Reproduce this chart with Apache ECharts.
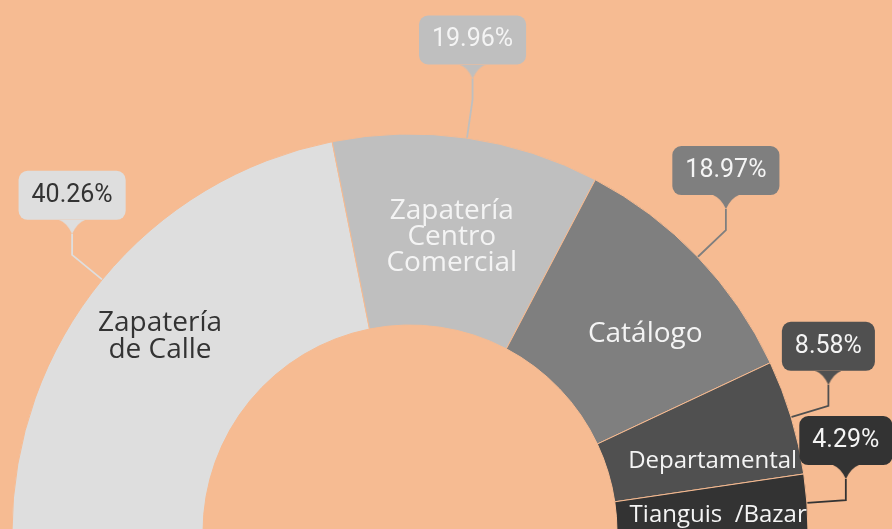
<!DOCTYPE html>
<html>
<head>
<meta charset="utf-8">
<script src="https://cdn.jsdelivr.net/npm/echarts@6/dist/echarts.min.js"></script>
<style>
  html, body { margin: 0; padding: 0; background: #F6BB92; }
  #chart { width: 892px; height: 529px; }
</style>
</head>
<body>
<div id="chart"></div>
<script>
// ---- data ----
const categories = ['Zapatería\nde Calle', 'Zapatería\nCentro\nComercial', 'Catálogo', 'Departamental', 'Tianguis  /Bazar'];
const shares = [40.26, 19.96, 18.97, 8.58, 4.29];

// ---- styles ----
const sliceColors = ['#DEDEDE', '#BFBFBF', '#7F7F7F', '#505050', '#333333'];
const textColors = ['#333333', '#F4F4F4', '#F4F4F4', '#F4F4F4', '#F4F4F4'];
const innerFontSizes = [28, 28, 28, 24, 24];
const innerLineHeights = [27, 26, 27, 24, 24];
const innerNudges = [[-8, 3], [-3, 15], [9, 18], [3, 19], [-4, 6]];

function tailImage(color) {
  const c = document.createElement('canvas');
  c.width = 26; c.height = 14;
  const g = c.getContext('2d');
  g.fillStyle = color;
  g.beginPath();
  g.moveTo(0, 0);
  g.quadraticCurveTo(8, 3, 13, 14);
  g.quadraticCurveTo(18, 3, 26, 0);
  g.closePath();
  g.fill();
  return c;
}

const outerData = categories.map((name, i) => ({
  name: name,
  value: shares[i],
  itemStyle: { color: sliceColors[i] },
  label: {
    rich: {
      box: {
        backgroundColor: sliceColors[i],
        color: textColors[i],
        borderRadius: 9,
        height: 25,
        padding: [12, 13],
        fontSize: 25,
        lineHeight: 49,
        fontFamily: 'Roboto',
        align: 'center'
      },
      tail: {
        width: 26,
        height: 14,
        lineHeight: 14,
        fontSize: 13,
        color: 'rgba(0,0,0,0)',
        align: 'center',
        backgroundColor: { image: tailImage(sliceColors[i]) }
      }
    }
  }
}));

const innerData = categories.map((name, i) => ({
  name: name,
  value: shares[i],
  label: {
    color: textColors[i],
    fontSize: innerFontSizes[i],
    lineHeight: innerLineHeights[i]
  }
}));

const chart = echarts.init(document.getElementById('chart'));
chart.setOption({
  backgroundColor: '#F6BB92',
  animation: false,
  series: [
    {
      type: 'pie',
      center: [410, 532],
      radius: [207, 398],
      startAngle: 180,
      endAngle: 0,
      clockwise: true,
      avoidLabelOverlap: false,
      silent: true,
      itemStyle: { borderColor: '#F6BB92', borderWidth: 1 },
      label: {
        show: true,
        position: 'outside',
        overflow: 'none',
        formatter: p => '{box|' + p.value.toFixed(2) + '%}\n{tail|\u00a0}'
      },
      labelLine: {
        show: true,
        length: 39,
        length2: 0,
        smooth: false,
        lineStyle: { width: 1.8 }
      },
      labelLayout: function (params) {
        const pts = params.labelLinePoints;
        if (!pts) return;
        const p0 = pts[0], p1 = pts[1];
        const p2 = [p1[0], p1[1] - 21];
        return {
          x: p2[0],
          y: p2[1],
          align: 'center',
          verticalAlign: 'bottom',
          labelLinePoints: [p0, p1, p2]
        };
      },
      data: outerData
    },
    {
      type: 'pie',
      center: [410, 532],
      radius: [214, 406],
      startAngle: 180,
      endAngle: 0,
      clockwise: true,
      avoidLabelOverlap: false,
      silent: true,
      itemStyle: { color: 'rgba(0,0,0,0)' },
      label: {
        show: true,
        position: 'inside',
        fontFamily: 'Open Sans',
        formatter: p => p.name
      },
      labelLine: { show: false },
      labelLayout: function (params) {
        const r = params.labelRect;
        const n = innerNudges[params.dataIndex];
        return {
          x: r.x + r.width / 2 + n[0],
          y: r.y + r.height / 2 + n[1],
          align: 'center',
          verticalAlign: 'middle'
        };
      },
      data: innerData
    }
  ]
});
</script>
</body>
</html>
